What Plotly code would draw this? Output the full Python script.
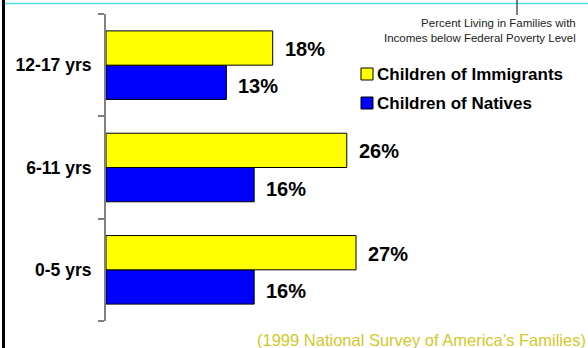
import plotly.graph_objects as go

# ---- data ----
age_groups = ["0-5 yrs", "6-11 yrs", "12-17 yrs"]
immigrants = [27, 26, 18]
natives = [16, 16, 13]
series_names = ["Children of Immigrants", "Children of Natives"]
subtitle_lines = ["Percent Living in Families with", "Incomes below Federal Poverty Level"]
source_text = "(1999 National Survey of America\u2019s Families)"

W, H = 588, 348
ML, MR, MT, MB = 106, 19, 14, 27
PW, PH = W - ML - MR, H - MT - MB
XMAX = 50
BARGAP = 0.33

YELLOW = "#FFFF00"
BLUE = "#0000FF"
FONT = "Arial, Liberation Sans, sans-serif"


def px(x):
    return (x - ML) / PW


def py(y):
    return (H - MB - y) / PH


fig = go.Figure()
# Natives first so it sits at the bottom of each group
fig.add_trace(go.Bar(y=age_groups, x=natives, orientation="h", name=series_names[1],
                     marker=dict(color=BLUE, line=dict(color="#000", width=1)), showlegend=False))
fig.add_trace(go.Bar(y=age_groups, x=immigrants, orientation="h", name=series_names[0],
                     marker=dict(color=YELLOW, line=dict(color="#000", width=1)), showlegend=False))

# value labels
half = (1 - BARGAP) / 4
annos = []
for i, cat in enumerate(age_groups):
    for vals, off, ys in ((immigrants, half, -1), (natives, -half, -4)):
        annos.append(dict(x=vals[i], y=i + off, xref="x", yref="y", text=f"{vals[i]}%",
                          showarrow=False, xanchor="left", yanchor="middle", xshift=10, yshift=ys,
                          font=dict(family=FONT, size=20, color="#000", weight=700)))

# manual legend
shapes = []
leg_rows = [(74, YELLOW, series_names[0]), (103, BLUE, series_names[1])]
for cy, col, name in leg_rows:
    shapes.append(dict(type="rect", xref="paper", yref="paper",
                       x0=px(361), x1=px(373), y0=py(cy - 6), y1=py(cy + 6),
                       fillcolor=col, line=dict(color="#000", width=1)))
    annos.append(dict(x=px(375), y=py(cy), xref="paper", yref="paper", text=name,
                      showarrow=False, xanchor="left", yanchor="middle",
                      font=dict(family=FONT, size=17, color="#000", weight=700)))

# subtitle
annos.append(dict(x=px(578), y=py(15), xref="paper", yref="paper",
                  text="<br>".join(subtitle_lines), showarrow=False, xanchor="right", yanchor="top",
                  align="right", font=dict(family=FONT, size=11.5, color="#222")))
# source
annos.append(dict(x=px(588), y=py(340), xref="paper", yref="paper", text=source_text,
                  showarrow=False, xanchor="right", yanchor="middle",
                  font=dict(family=FONT, size=16.5, color="#D2C82A")))

# slide decorations
shapes.append(dict(type="line", xref="paper", yref="paper", x0=px(3.5), x1=px(3.5), y0=py(0), y1=py(348),
                   line=dict(color="#000", width=3)))
shapes.append(dict(type="line", xref="paper", yref="paper", x0=px(5), x1=px(588), y0=py(3.5), y1=py(3.5),
                   line=dict(color="#4FE0E6", width=1.5)))
shapes.append(dict(type="line", xref="paper", yref="paper", x0=px(517), x1=px(517), y0=py(0), y1=py(15),
                   line=dict(color="#000", width=1)))

fig.update_layout(
    width=W, height=H,
    margin=dict(l=ML, r=MR, t=MT, b=MB, pad=0),
    paper_bgcolor="white", plot_bgcolor="white",
    barmode="group", bargap=BARGAP, bargroupgap=0,
    annotations=annos, shapes=shapes, showlegend=False,
    xaxis=dict(range=[0, XMAX], visible=False, fixedrange=True),
    yaxis=dict(range=[-0.5, 2.5], type="category", tickson="boundaries", ticks="outside",
               ticklen=6, tickwidth=1.5, tickcolor="#808080", showline=True, linecolor="#808080",
               linewidth=2, showgrid=False, zeroline=False, ticklabelstandoff=9,
               tickfont=dict(family=FONT, size=17.5, color="#000", weight=700)),
)

fig.write_html("out.html", config={"displayModeBar": False},
               post_script="document.body.style.margin='0';document.body.style.overflow='hidden';")
